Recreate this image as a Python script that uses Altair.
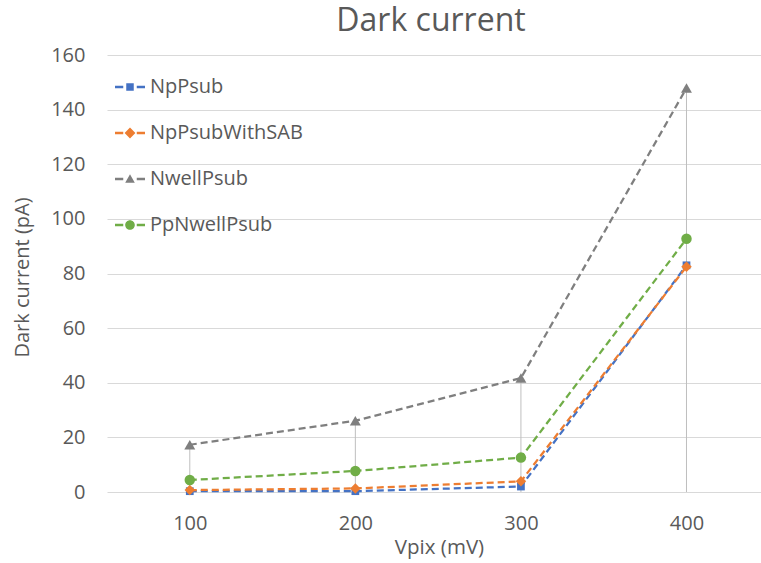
import altair as alt
import pandas as pd

# ---- data ----
vpix = [100, 200, 300, 400]
series_names = ["NpPsub", "NpPsubWithSAB", "NwellPsub", "PpNwellPsub"]
np_psub = [0.3, 0.3, 2.0, 83.0]
np_psub_sab = [0.7, 1.3, 3.9, 82.5]
nwell_psub = [17.3, 26.1, 41.7, 147.9]
pp_nwell_psub = [4.4, 7.7, 12.6, 92.7]
y_ticks = [0, 20, 40, 60, 80, 100, 120, 140, 160]

# ---- styles ----
colors = ["#4472C4", "#ED7D31", "#7F7F7F", "#70AD47"]
marker_shapes = ["square", "diamond", "triangle-up", "circle"]
marker_sizes = [60, 110, 120, 110]
dash_l = "M-1,-0.09H-0.45V0.09H-1Z"
dash_r = "M0.45,-0.09H1V0.09H0.45Z"
legend_paths = [
    dash_l + dash_r + "M-0.25,-0.25H0.25V0.25H-0.25Z",
    dash_l + dash_r + "M0,-0.36L0.36,0L0,0.36L-0.36,0Z",
    dash_l + dash_r + "M0,-0.32L0.32,0.25L-0.32,0.25Z",
    dash_l + dash_r + "M-0.32,0A0.32,0.32 0 1,0 0.32,0A0.32,0.32 0 1,0 -0.32,0Z",
]
FONT = "Open Sans"
TXT = "#595959"

rows = []
for name, vals in zip(series_names, [np_psub, np_psub_sab, nwell_psub, pp_nwell_psub]):
    for xv, yv in zip(vpix, vals):
        rows.append({"vpix": xv, "value": yv, "series": name})
df = pd.DataFrame(rows)

x_enc = alt.X(
    "vpix:Q",
    scale=alt.Scale(domain=[50, 445], nice=False, zero=False),
    axis=alt.Axis(
        values=vpix, grid=False, domain=False, ticks=False, tickSize=0,
        labelFontSize=20, labelFont=FONT, labelColor=TXT, labelPadding=21,
        title="Vpix (mV)", titleFont=FONT, titleFontSize=20.5, titleColor=TXT,
        titleFontWeight="normal", titleX=332, titleY=55, titleBaseline="middle",
    ),
)
y_axis = alt.Axis(
    values=y_ticks, grid=True, gridColor="#D9D9D9", gridWidth=1,
    domain=False, ticks=False, tickSize=0,
    labelFontSize=20, labelFont=FONT, labelColor=TXT, labelPadding=22,
    title="Dark current (pA)", titleFont=FONT, titleFontSize=20, titleColor=TXT,
    titleFontWeight="normal", titleAngle=-90, titleX=-85, titleY=222,
    titleBaseline="middle", titleAlign="center",
)
y_scale = alt.Scale(domain=[0, 160], nice=False)
color_scale = alt.Scale(domain=series_names, range=colors)

base = alt.Chart(df)

drop = base.transform_aggregate(
    top="max(value)", groupby=["vpix"]
).mark_rule(color="#BFBFBF", strokeWidth=1).encode(
    x=x_enc,
    y=alt.Y("top:Q", scale=y_scale, axis=y_axis),
    y2=alt.Y2Datum(0),
)

layers = [drop]
for i, s in enumerate(series_names):
    sub = base.transform_filter(alt.datum.series == s)
    layers.append(
        sub.mark_line(strokeDash=[7, 4], strokeWidth=2.25).encode(
            x=x_enc,
            y=alt.Y("value:Q", scale=y_scale, axis=y_axis),
            color=alt.Color("series:N", scale=color_scale, legend=None),
        )
    )
    layers.append(
        sub.mark_point(
            filled=True, shape=marker_shapes[i], size=marker_sizes[i],
            opacity=1, strokeWidth=0,
        ).encode(
            x=x_enc,
            y=alt.Y("value:Q", scale=y_scale, axis=y_axis),
            color=alt.Color("series:N", scale=color_scale, legend=None),
        )
    )

leg = alt.Legend(
    title=None, orient="none", legendX=8, legendY=17,
    labelFont=FONT, labelFontSize=20, labelColor=TXT, labelOffset=5,
    symbolSize=900, symbolStrokeWidth=0, rowPadding=21, padding=0,
    symbolOpacity=1, labelLimit=400,
)
legend_layer = base.transform_filter("false").mark_point(
    filled=True, opacity=1
).encode(
    x=x_enc,
    y=alt.Y("value:Q", scale=y_scale, axis=y_axis),
    color=alt.Color("series:N", scale=color_scale, legend=leg),
    shape=alt.Shape("series:N", scale=alt.Scale(domain=series_names, range=legend_paths), legend=leg),
)
layers.append(legend_layer)

chart = alt.layer(*layers).resolve_legend(
    color="independent", shape="independent"
).properties(
    width=654,
    height=437,
    padding={"left": 107, "top": 55, "right": 0, "bottom": 71},
    autosize=alt.AutoSizeParams(type="none"),
    background="white",
    title=alt.TitleParams(
        "Dark current", font=FONT, fontSize=32, color=TXT, fontWeight="normal",
        anchor="middle", offset=7, dx=-3,
    ),
).configure_view(stroke=None)

chart.save("out.html", embed_options={"renderer": "svg", "actions": False})
